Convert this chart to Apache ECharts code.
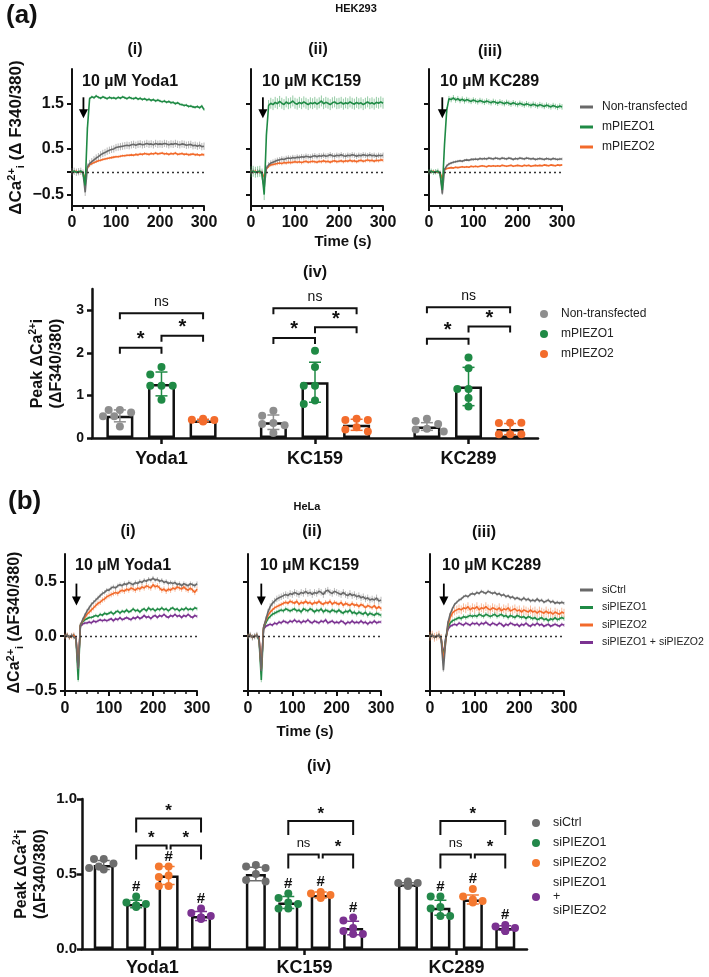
<!DOCTYPE html>
<html>
<head>
<meta charset="utf-8">
<script src="https://cdn.jsdelivr.net/npm/echarts@6/dist/echarts.min.js"></script>
<style>
html,body{margin:0;padding:0;background:#fff}
#chart{width:709px;height:977px}
</style>
</head>
<body>
<div id="chart"></div>
<script>
const FONT = '"Liberation Sans", Arial, sans-serif';

// ---- trace data (sampled every 5 s) ----
const traceTime = [0,5,10,15,20,25,30,35,40,45,50,55,60,65,70,75,80,85,90,95,100,105,110,115,120,125,130,135,140,145,150,155,160,165,170,175,180,185,190,195,200,205,210,215,220,225,230,235,240,245,250,255,260,265,270,275,280,285,290,295,300];

const drugs = ['Yoda1', 'KC159', 'KC289'];
const hekGroups = ['Non-transfected', 'mPIEZO1', 'mPIEZO2'];
const helaGroups = ['siCtrl', 'siPIEZO1', 'siPIEZO2', 'siPIEZO1 + siPIEZO2'];

// HEK293, Yoda1
const hekYoda1NT = [0.00,0.01,-0.01,0.00,0.01,-0.03,-0.45,0.10,0.18,0.22,
  0.26,0.30,0.33,0.37,0.40,0.42,0.45,0.47,0.49,0.50,
  0.53,0.54,0.55,0.56,0.57,0.58,0.57,0.59,0.60,0.58,
  0.60,0.61,0.59,0.60,0.62,0.60,0.61,0.59,0.62,0.60,
  0.61,0.60,0.62,0.61,0.59,0.61,0.60,0.62,0.60,0.59,
  0.61,0.60,0.58,0.59,0.60,0.57,0.58,0.56,0.58,0.55,0.56];
const hekYoda1P1 = [0.00,0.01,-0.01,0.00,0.01,-0.02,-0.30,0.95,1.60,1.64,
  1.62,1.66,1.63,1.61,1.64,1.62,1.60,1.63,1.61,1.62,
  1.60,1.63,1.61,1.64,1.62,1.60,1.63,1.61,1.60,1.62,
  1.59,1.61,1.58,1.60,1.57,1.59,1.56,1.58,1.55,1.57,
  1.55,1.53,1.55,1.52,1.54,1.51,1.52,1.49,1.51,1.48,
  1.47,1.45,1.46,1.43,1.44,1.42,1.41,1.43,1.40,1.44,1.36];
const hekYoda1P2 = [0.00,0.00,0.01,-0.01,0.00,-0.02,-0.15,0.08,0.15,0.18,
  0.20,0.22,0.24,0.25,0.27,0.28,0.29,0.30,0.31,0.32,
  0.33,0.33,0.34,0.35,0.35,0.36,0.36,0.37,0.36,0.38,
  0.37,0.39,0.38,0.40,0.39,0.38,0.40,0.39,0.41,0.39,
  0.40,0.41,0.39,0.40,0.38,0.40,0.39,0.41,0.38,0.39,
  0.40,0.38,0.39,0.37,0.38,0.39,0.37,0.38,0.36,0.38,0.37];
// HEK293, KC159
const hekKC159NT = [0.00,0.01,-0.01,0.00,0.01,-0.03,-0.35,0.08,0.15,0.19,
  0.21,0.23,0.25,0.26,0.28,0.27,0.29,0.30,0.29,0.31,
  0.30,0.32,0.31,0.33,0.32,0.34,0.33,0.32,0.34,0.35,
  0.33,0.35,0.34,0.36,0.34,0.35,0.37,0.35,0.34,0.36,
  0.35,0.37,0.35,0.34,0.36,0.35,0.37,0.36,0.34,0.36,
  0.35,0.37,0.36,0.35,0.37,0.35,0.36,0.34,0.36,0.35,0.36];
const hekKC159P1 = [0.00,0.01,-0.01,0.00,0.01,-0.05,-0.50,0.80,1.45,1.50,
  1.47,1.52,1.49,1.54,1.50,1.47,1.53,1.49,1.51,1.55,
  1.50,1.48,1.52,1.49,1.53,1.50,1.47,1.51,1.49,1.52,
  1.48,1.51,1.55,1.49,1.52,1.50,1.47,1.51,1.53,1.49,
  1.50,1.52,1.48,1.51,1.49,1.53,1.50,1.48,1.52,1.49,
  1.51,1.47,1.50,1.53,1.49,1.51,1.48,1.52,1.50,1.53,1.50];
const hekKC159P2 = [0.00,0.00,0.01,-0.01,0.00,-0.02,-0.12,0.06,0.12,0.15,
  0.16,0.17,0.18,0.19,0.18,0.20,0.19,0.21,0.20,0.21,
  0.22,0.21,0.22,0.20,0.22,0.23,0.21,0.22,0.23,0.22,
  0.21,0.23,0.22,0.24,0.22,0.23,0.21,0.23,0.24,0.22,
  0.23,0.24,0.22,0.24,0.23,0.25,0.23,0.24,0.22,0.24,
  0.25,0.23,0.24,0.26,0.24,0.25,0.23,0.25,0.24,0.26,0.25];
// HEK293, KC289
const hekKC289NT = [0.00,0.01,-0.01,0.00,0.01,-0.05,-0.48,0.05,0.13,0.17,
  0.19,0.21,0.22,0.23,0.24,0.23,0.25,0.26,0.25,0.27,
  0.27,0.28,0.27,0.29,0.28,0.29,0.28,0.30,0.29,0.28,
  0.30,0.29,0.28,0.30,0.29,0.28,0.30,0.29,0.27,0.29,
  0.28,0.30,0.29,0.28,0.30,0.29,0.28,0.29,0.27,0.28,
  0.29,0.28,0.27,0.29,0.28,0.27,0.29,0.28,0.27,0.28,0.28];
const hekKC289P1 = [0.00,0.01,-0.01,0.00,0.01,-0.03,-0.40,0.60,1.35,1.60,
  1.58,1.62,1.57,1.60,1.56,1.59,1.55,1.58,1.56,1.54,
  1.57,1.55,1.53,1.56,1.54,1.52,1.55,1.53,1.51,1.54,
  1.52,1.50,1.53,1.51,1.49,1.52,1.50,1.48,1.51,1.49,
  1.47,1.50,1.48,1.46,1.49,1.47,1.45,1.48,1.46,1.44,
  1.47,1.45,1.43,1.46,1.44,1.42,1.45,1.43,1.41,1.44,1.42];
const hekKC289P2 = [0.00,0.00,0.01,-0.01,0.00,-0.02,-0.15,0.04,0.07,0.08,
  0.09,0.08,0.10,0.09,0.10,0.11,0.10,0.11,0.10,0.12,
  0.11,0.12,0.11,0.12,0.13,0.12,0.11,0.13,0.12,0.13,
  0.12,0.13,0.12,0.14,0.13,0.12,0.13,0.14,0.12,0.13,
  0.14,0.13,0.12,0.14,0.13,0.14,0.12,0.13,0.14,0.13,
  0.14,0.13,0.15,0.14,0.13,0.15,0.14,0.13,0.15,0.14,0.15];
// typical SEM of each HEK trace [NT, P1, P2]
const hekSemYoda1 = [0.08, 0.03, 0.03];
const hekSemKC159 = [0.06, 0.12, 0.04];
const hekSemKC289 = [0.03, 0.06, 0.02];

// HeLa, Yoda1
const helaYoda1Ctrl = [0.00,0.01,-0.01,0.01,-0.01,-0.02,-0.30,0.10,0.15,0.19,
  0.23,0.26,0.29,0.31,0.33,0.35,0.37,0.39,0.40,0.42,
  0.42,0.44,0.45,0.44,0.46,0.47,0.46,0.48,0.47,0.49,
  0.48,0.47,0.49,0.48,0.50,0.49,0.51,0.50,0.52,0.51,
  0.53,0.51,0.52,0.50,0.51,0.49,0.50,0.48,0.49,0.48,
  0.49,0.47,0.48,0.46,0.48,0.47,0.46,0.48,0.47,0.46,0.48];
const helaYoda1P1 = [0.00,0.01,-0.01,0.00,0.01,-0.03,-0.40,0.10,0.13,0.15,
  0.16,0.17,0.17,0.18,0.19,0.18,0.20,0.19,0.21,0.20,
  0.21,0.22,0.20,0.22,0.23,0.21,0.23,0.22,0.24,0.22,
  0.23,0.25,0.23,0.24,0.22,0.24,0.25,0.23,0.26,0.24,
  0.25,0.23,0.25,0.24,0.26,0.24,0.25,0.23,0.25,0.26,
  0.24,0.25,0.23,0.25,0.24,0.26,0.24,0.25,0.24,0.26,0.25];
const helaYoda1P2 = [0.00,0.01,-0.01,0.00,0.01,-0.02,-0.28,0.10,0.14,0.17,
  0.20,0.22,0.24,0.26,0.28,0.30,0.31,0.33,0.34,0.36,
  0.37,0.38,0.39,0.40,0.39,0.41,0.42,0.41,0.43,0.42,
  0.44,0.43,0.42,0.44,0.43,0.45,0.44,0.46,0.45,0.44,
  0.47,0.45,0.46,0.44,0.42,0.43,0.41,0.43,0.42,0.44,
  0.43,0.45,0.44,0.43,0.45,0.43,0.42,0.44,0.42,0.40,0.43];
const helaYoda1Both = [0.00,0.01,-0.01,0.00,0.01,-0.02,-0.30,0.09,0.11,0.12,
  0.12,0.13,0.12,0.14,0.13,0.14,0.15,0.14,0.15,0.14,
  0.15,0.16,0.14,0.16,0.15,0.17,0.15,0.16,0.17,0.16,
  0.15,0.17,0.16,0.18,0.16,0.17,0.19,0.17,0.18,0.16,
  0.18,0.19,0.17,0.19,0.18,0.20,0.18,0.17,0.19,0.18,
  0.20,0.18,0.19,0.17,0.19,0.18,0.20,0.18,0.17,0.19,0.18];
// HeLa, KC159
const helaKC159Ctrl = [0.00,0.01,-0.01,0.00,0.01,-0.03,-0.32,0.08,0.15,0.22,
  0.27,0.30,0.32,0.34,0.35,0.36,0.37,0.38,0.37,0.39,
  0.38,0.40,0.39,0.38,0.40,0.39,0.41,0.39,0.40,0.38,
  0.40,0.39,0.41,0.40,0.38,0.41,0.42,0.40,0.39,0.41,
  0.40,0.39,0.38,0.40,0.38,0.37,0.39,0.37,0.38,0.36,
  0.37,0.35,0.36,0.34,0.35,0.33,0.34,0.33,0.35,0.32,0.33];
const helaKC159P1 = [0.00,0.01,-0.01,0.00,0.01,-0.04,-0.40,0.07,0.12,0.16,
  0.18,0.20,0.21,0.22,0.23,0.24,0.23,0.25,0.24,0.23,
  0.24,0.25,0.23,0.24,0.22,0.25,0.24,0.23,0.25,0.24,
  0.22,0.24,0.23,0.25,0.22,0.24,0.23,0.22,0.24,0.23,
  0.22,0.24,0.22,0.21,0.23,0.22,0.24,0.21,0.22,0.20,
  0.22,0.21,0.20,0.22,0.19,0.21,0.20,0.19,0.21,0.20,0.19];
const helaKC159P2 = [0.00,0.01,-0.01,0.00,0.01,-0.02,-0.30,0.08,0.14,0.19,
  0.22,0.24,0.26,0.27,0.28,0.29,0.30,0.31,0.30,0.32,
  0.31,0.30,0.32,0.29,0.31,0.30,0.32,0.30,0.31,0.29,
  0.31,0.30,0.32,0.30,0.29,0.31,0.30,0.32,0.29,0.31,
  0.30,0.29,0.31,0.28,0.30,0.29,0.28,0.30,0.28,0.29,
  0.27,0.29,0.28,0.26,0.28,0.27,0.26,0.28,0.25,0.27,0.25];
const helaKC159Both = [0.00,0.01,-0.01,0.00,0.01,-0.02,-0.30,0.06,0.09,0.10,
  0.11,0.10,0.12,0.11,0.13,0.12,0.14,0.13,0.12,0.14,
  0.13,0.15,0.13,0.14,0.12,0.14,0.13,0.15,0.13,0.12,
  0.14,0.13,0.12,0.14,0.13,0.15,0.12,0.13,0.14,0.12,
  0.13,0.12,0.14,0.13,0.11,0.13,0.12,0.14,0.12,0.13,
  0.12,0.14,0.12,0.13,0.11,0.13,0.12,0.14,0.12,0.13,0.13];
// HeLa, KC289
const helaKC289Ctrl = [0.00,0.01,-0.01,0.00,0.01,-0.03,-0.31,-0.05,0.12,0.20,
  0.25,0.29,0.31,0.33,0.34,0.36,0.37,0.36,0.38,0.39,
  0.38,0.40,0.39,0.41,0.40,0.39,0.41,0.40,0.39,0.40,
  0.38,0.39,0.37,0.38,0.36,0.37,0.35,0.36,0.34,0.35,
  0.34,0.33,0.35,0.33,0.34,0.32,0.33,0.32,0.34,0.32,
  0.33,0.31,0.32,0.33,0.31,0.32,0.30,0.31,0.30,0.31,0.30];
const helaKC289P1 = [0.00,0.01,-0.01,0.00,0.01,-0.02,-0.20,-0.03,0.08,0.12,
  0.14,0.15,0.16,0.17,0.16,0.18,0.17,0.18,0.19,0.18,
  0.19,0.18,0.20,0.19,0.18,0.20,0.19,0.18,0.19,0.20,
  0.18,0.19,0.20,0.18,0.19,0.17,0.19,0.18,0.17,0.19,
  0.18,0.17,0.18,0.16,0.18,0.17,0.16,0.17,0.15,0.16,
  0.17,0.15,0.16,0.14,0.16,0.15,0.17,0.15,0.16,0.17,0.16];
const helaKC289P2 = [0.00,0.01,-0.01,0.00,0.01,-0.02,-0.23,-0.05,0.10,0.17,
  0.21,0.23,0.24,0.25,0.24,0.26,0.25,0.27,0.24,0.26,
  0.25,0.27,0.24,0.26,0.25,0.27,0.25,0.24,0.26,0.25,
  0.24,0.26,0.23,0.25,0.24,0.26,0.23,0.24,0.25,0.23,
  0.24,0.22,0.24,0.23,0.22,0.24,0.22,0.23,0.21,0.23,
  0.22,0.21,0.23,0.21,0.22,0.20,0.22,0.21,0.20,0.22,0.21];
const helaKC289Both = [0.00,0.01,-0.01,0.00,0.01,-0.02,-0.18,-0.02,0.06,0.09,
  0.10,0.11,0.10,0.12,0.11,0.10,0.12,0.11,0.10,0.12,
  0.11,0.12,0.10,0.12,0.11,0.13,0.11,0.10,0.12,0.11,
  0.10,0.12,0.11,0.09,0.11,0.10,0.12,0.11,0.10,0.11,
  0.09,0.11,0.10,0.12,0.10,0.09,0.11,0.10,0.12,0.10,
  0.11,0.09,0.10,0.11,0.09,0.10,0.11,0.10,0.09,0.11,0.10];
// typical SEM of each HeLa trace [Ctrl, P1, P2, Both]
const helaSemYoda1 = [0.02, 0.015, 0.025, 0.015];
const helaSemKC159 = [0.03, 0.02, 0.02, 0.015];
const helaSemKC289 = [0.015, 0.02, 0.04, 0.015];

// ---- peak responses: HEK293 (per drug) ----
const hekNTMean = [0.52, 0.37, 0.27];
const hekP1Mean = [1.27, 1.31, 1.21];
const hekP2Mean = [0.41, 0.31, 0.21];
const hekNTSd = [0.14, 0.17, 0.09];
const hekP1Sd = [0.28, 0.47, 0.45];
const hekP2Sd = [0.03, 0.13, 0.13];
const hekNTPts = [[0.66,0.66,0.60,0.51,0.51,0.27],[0.64,0.52,0.35,0.33,0.30,0.12],[0.45,0.40,0.33,0.22,0.20,0.15]];
const hekP1Pts = [[1.67,1.49,1.23,1.23,1.23,0.90],[2.05,1.67,1.23,1.23,0.88,0.80],[1.89,1.64,1.15,1.15,0.94,0.74]];
const hekP2Pts = [[0.45,0.43,0.42,0.41,0.40,0.39],[0.45,0.42,0.42,0.25,0.20,0.15],[0.36,0.35,0.36,0.09,0.09,0.09]];
// [drug, group a, group b, height, label]
const hekBrackets = [
  [0,0,1,2.12,'*'],[0,1,2,2.40,'*'],[0,0,2,2.93,'ns'],
  [1,0,1,2.35,'*'],[1,1,2,2.60,'*'],[1,0,2,3.05,'ns'],
  [2,0,1,2.33,'*'],[2,1,2,2.62,'*'],[2,0,2,3.07,'ns']];

// ---- peak responses: HeLa (per drug) ----
const helaCtrlMean = [0.56, 0.50, 0.43];
const helaP1Mean = [0.30, 0.31, 0.275];
const helaP2Mean = [0.49, 0.36, 0.33];
const helaBothMean = [0.22, 0.14, 0.14];
const helaCtrlSd = [0.03, 0.045, 0.012];
const helaP1Sd = [0.025, 0.04, 0.05];
const helaP2Sd = [0.06, 0.02, 0.03];
const helaBothSd = [0.03, 0.045, 0.015];
const helaCtrlPts = [[0.60,0.60,0.57,0.55,0.54,0.53],[0.56,0.55,0.54,0.50,0.46,0.45],[0.45,0.44,0.44,0.43,0.43,0.42]];
const helaP1Pts = [[0.35,0.31,0.30,0.29,0.29,0.28],[0.37,0.34,0.31,0.30,0.27,0.27],[0.35,0.35,0.28,0.27,0.22,0.22]];
const helaP2Pts = [[0.55,0.55,0.49,0.48,0.42,0.42],[0.38,0.37,0.36,0.36,0.35,0.34],[0.40,0.35,0.33,0.32,0.32,0.31]];
const helaBothPts = [[0.27,0.24,0.22,0.21,0.21,0.20],[0.21,0.19,0.14,0.12,0.10,0.10],[0.16,0.15,0.14,0.13,0.12,0.12]];
const helaBrackets = [
  [0,1,3,0.87,'*'],[0,1,2,0.69,'*'],[0,2,3,0.69,'*'],
  [1,1,3,0.853,'*'],[1,1,2,0.63,'ns'],[1,2,3,0.63,'*'],
  [2,1,3,0.853,'*'],[2,1,2,0.63,'ns'],[2,2,3,0.63,'*']];
// groups marked # (different from siCtrl)
const helaHashGroups = [1, 2, 3];

// ---- styling ----
const cGrey = '#696969', cGreen = '#1f8a45', cOrange = '#f26a2b', cPurple = '#7b3291';
const hekColors = [cGrey, cGreen, cOrange];
const hekDots = ['#8e8e8e', '#1f8a45', '#f36c2c'];
const helaColors = [cGrey, cGreen, cOrange, cPurple];
const helaDots = ['#6d6d6d', '#23884a', '#f4782f', '#7b3291'];
const hekSemColors = ['rgba(120,120,120,0.55)', 'rgba(60,160,90,0.55)', 'rgba(242,120,60,0.5)'];
const helaSemColors = ['rgba(120,120,120,0.5)', 'rgba(60,160,90,0.5)', 'rgba(242,120,60,0.5)', 'rgba(140,80,160,0.5)'];

const grids = [], xAxes = [], yAxes = [], series = [];

function fmt1(v) {
  return (v < 0 ? '\u2212' : '') + Math.abs(v).toFixed(1);
}
function axisLine(w) { return {show: true, onZero: false, lineStyle: {color: '#111', width: w || 2}}; }

function addTracePanel(cfg) {
  const gi = grids.length;
  grids.push({left: cfg.left, top: cfg.top, width: cfg.width, height: cfg.height});
  xAxes.push({gridIndex: gi, type: 'value', min: 0, max: 300, interval: 100,
    axisLine: axisLine(),
    axisTick: {show: true, length: 5, lineStyle: {width: 2, color: '#111'}},
    minorTick: {show: true, splitNumber: 4, length: 3, lineStyle: {width: 1.5, color: '#111'}},
    splitLine: {show: false}, minorSplitLine: {show: false},
    axisLabel: {margin: cfg.xMargin, fontSize: 16, fontWeight: 'bold', color: '#111', fontFamily: FONT}});
  yAxes.push({gridIndex: gi, type: 'value', min: cfg.yMin, max: cfg.yMax,
    axisLine: axisLine(),
    axisTick: {show: true, length: 5, customValues: cfg.ticks, lineStyle: {width: 2, color: '#111'}},
    axisLabel: {show: cfg.showLabels, customValues: cfg.labels, margin: 8, fontSize: 16,
      fontWeight: 'bold', color: '#111', fontFamily: FONT, formatter: fmt1},
    splitLine: {show: false},
    name: cfg.yName || '', nameLocation: 'middle', nameGap: cfg.nameGap || 0, nameMoveOverlap: false,
    nameTextStyle: cfg.nameStyle || {}});

  cfg.order.forEach((k, n) => {
    const vals = cfg.traces[k], sem = cfg.sems[k];
    const s = {type: 'custom', xAxisIndex: gi, yAxisIndex: gi, silent: true, z: 1,
      data: traceTime.map((t, i) => [t, vals[i] - sem, vals[i] + sem]),
      renderItem(params, api) {
        const a = api.coord([api.value(0), api.value(1)]);
        const b = api.coord([api.value(0), api.value(2)]);
        return {type: 'line', shape: {x1: a[0], y1: a[1], x2: b[0], y2: b[1]},
          style: {stroke: cfg.semColors[k], lineWidth: 1}};
      }};
    if (n === 0) {
      s.markLine = {silent: true, symbol: ['none', 'none'], label: {show: false},
        lineStyle: {type: [2, 3], color: '#333', width: 1.3}, data: [{yAxis: 0}]};
    }
    series.push(s);
  });
  cfg.order.forEach(k => {
    series.push({type: 'line', name: cfg.names[k], xAxisIndex: gi, yAxisIndex: gi, z: 3,
      data: traceTime.map((t, i) => [t, cfg.traces[k][i]]),
      showSymbol: false, symbol: 'none', silent: true,
      lineStyle: {color: cfg.colors[k], width: 1.6}, itemStyle: {color: cfg.colors[k]}});
  });
  // drug application arrow
  series.push({type: 'custom', xAxisIndex: gi, yAxisIndex: gi, z: 4, silent: true,
    data: [[cfg.arrowT, cfg.arrowY[0], cfg.arrowY[1]]],
    renderItem(params, api) {
      const top = api.coord([api.value(0), api.value(1)]);
      const tip = api.coord([api.value(0), api.value(2)]);
      return {type: 'group', children: [
        {type: 'line', shape: {x1: top[0], y1: top[1], x2: tip[0], y2: tip[1] - 6}, style: {stroke: '#000', lineWidth: 1.8}},
        {type: 'polygon', shape: {points: [[tip[0] - 4.5, tip[1] - 9], [tip[0] + 4.5, tip[1] - 9], [tip[0], tip[1]]]}, style: {fill: '#000'}}
      ]};
    }});
}

function swarm(values, unitPx, valPx, step, diam) {
  const placed = [];
  const cand = [0, -1, 1, -0.5, 0.5, -1.5, 1.5];
  return values.map(v => {
    for (const c of cand) {
      const ox = c * step;
      if (placed.every(p => Math.hypot((p[0] - ox) * unitPx, (p[1] - v) * valPx) >= diam)) {
        placed.push([ox, v]);
        return ox;
      }
    }
    placed.push([0, v]);
    return 0;
  });
}

function addBarPanel(cfg) {
  const gi = grids.length;
  const n = cfg.groups.length;
  const pos = (d, g) => d * (n + 0.69) + g;
  const xMin = -0.67, xMax = pos(drugs.length - 1, n - 1) + 0.67;
  const centers = drugs.map((_, d) => pos(d, (n - 1) / 2));
  const unitPx = cfg.width / (xMax - xMin), valPx = cfg.height / cfg.yMax;
  grids.push({left: cfg.left, top: cfg.top, width: cfg.width, height: cfg.height});
  xAxes.push({gridIndex: gi, type: 'value', min: xMin, max: xMax,
    axisLine: axisLine(2.5),
    axisTick: {show: true, length: 6, customValues: centers, lineStyle: {width: 2.5, color: '#111'}},
    axisLabel: {customValues: centers, margin: cfg.catMargin, fontSize: 18, fontWeight: 'bold', color: '#111', fontFamily: FONT,
      formatter: v => drugs[centers.findIndex(c => Math.abs(c - v) < 1e-6)] || ''},
    splitLine: {show: false}});
  yAxes.push({gridIndex: gi, type: 'value', min: 0, max: cfg.yMax,
    axisLine: axisLine(2.5),
    axisTick: {show: true, length: 5, customValues: cfg.ticks, lineStyle: {width: 2.5, color: '#111'}},
    axisLabel: {customValues: cfg.ticks, margin: cfg.tickMargin, fontSize: cfg.tickFont, fontWeight: 'bold', color: '#111',
      fontFamily: FONT, formatter: cfg.tickFmt},
    splitLine: {show: false},
    name: cfg.yName, nameLocation: 'middle', nameGap: cfg.nameGap, nameMoveOverlap: false, nameTextStyle: cfg.nameStyle});

  const barData = [];
  drugs.forEach((_, d) => cfg.means.forEach((m, g) => barData.push([pos(d, g), m[d]])));
  series.push({type: 'bar', xAxisIndex: gi, yAxisIndex: gi, barWidth: cfg.barWidth, z: 2, silent: true,
    data: barData, itemStyle: {color: '#fff', borderColor: '#111', borderWidth: 2.5}});

  cfg.means.forEach((m, g) => {
    series.push({type: 'custom', xAxisIndex: gi, yAxisIndex: gi, z: 3, silent: true,
      data: drugs.map((_, d) => [pos(d, g), m[d] - cfg.sds[g][d], m[d] + cfg.sds[g][d]]),
      renderItem(params, api) {
        const a = api.coord([api.value(0), api.value(1)]);
        const b = api.coord([api.value(0), api.value(2)]);
        const w = cfg.capW / 2, st = {stroke: cfg.dots[g], lineWidth: 1.5};
        return {type: 'group', children: [
          {type: 'line', shape: {x1: a[0], y1: a[1], x2: b[0], y2: b[1]}, style: st},
          {type: 'line', shape: {x1: a[0] - w, y1: a[1], x2: a[0] + w, y2: a[1]}, style: st},
          {type: 'line', shape: {x1: b[0] - w, y1: b[1], x2: b[0] + w, y2: b[1]}, style: st}
        ]};
      }});
  });

  cfg.pts.forEach((p, g) => {
    const data = [];
    drugs.forEach((_, d) => {
      const off = swarm(p[d], unitPx, valPx, cfg.step, cfg.dotSize);
      p[d].forEach((v, i) => data.push([pos(d, g) + off[i], v]));
    });
    series.push({type: 'scatter', name: cfg.groups[g], xAxisIndex: gi, yAxisIndex: gi, z: 4, silent: true,
      symbolSize: cfg.dotSize, data, itemStyle: {color: cfg.dots[g], opacity: 1}});
  });

  // significance brackets
  const list = cfg.brackets;
  const meta = list.map((b, k) => {
    const shared = e => list.some((o, j) => j !== k && o[0] === b[0] && o[3] === b[3] && (o[1] === e || o[2] === e));
    const sa = shared(b[1]), sb = shared(b[2]);
    return {la: sa ? cfg.legShort : cfg.legLong, lb: sb ? cfg.legShort : cfg.legLong,
      da: sa ? 2 : 0, db: sb ? -2 : 0, text: b[4]};
  });
  series.push({type: 'custom', xAxisIndex: gi, yAxisIndex: gi, z: 5, silent: true,
    data: list.map(b => [pos(b[0], b[1]), pos(b[0], b[2]), b[3]]),
    renderItem(params, api) {
      const m = meta[params.dataIndex];
      const a = api.coord([api.value(0), api.value(2)]);
      const c = api.coord([api.value(1), api.value(2)]);
      const x1 = a[0] + m.da, x2 = c[0] + m.db, y = a[1];
      const star = m.text === '*';
      return {type: 'group', children: [
        {type: 'polyline', shape: {points: [[x1, y + m.la], [x1, y], [x2, y], [x2, y + m.lb]]},
          style: {stroke: '#111', lineWidth: 2, fill: 'none'}},
        {type: 'text', x: (x1 + x2) / 2, y: y - (star ? cfg.starGap : cfg.nsGap),
          style: {text: m.text, align: 'center', verticalAlign: 'middle', fill: '#111',
            font: star ? cfg.starFont : cfg.nsFont}}
      ]};
    }});

  if (cfg.hashGroups) {
    const hd = [];
    drugs.forEach((_, d) => cfg.hashGroups.forEach(g => {
      const top = Math.max(Math.max(...cfg.pts[g][d]), cfg.means[g][d] + cfg.sds[g][d]);
      hd.push([pos(d, g), top]);
    }));
    series.push({type: 'custom', xAxisIndex: gi, yAxisIndex: gi, z: 5, silent: true, data: hd,
      renderItem(params, api) {
        const p = api.coord([api.value(0), api.value(1)]);
        return {type: 'text', x: p[0], y: p[1] - 10,
          style: {text: '#', align: 'center', verticalAlign: 'middle', fill: '#111', font: 'bold 15px ' + FONT}};
      }});
  }
}

const traceNameA = {
  b: {fontSize: 17, fontWeight: 'bold', fontFamily: FONT, color: '#111', lineHeight: 20},
  sup: {fontSize: 11, fontWeight: 'bold', fontFamily: FONT, color: '#111', lineHeight: 11, verticalAlign: 'top'},
  sub: {fontSize: 11, fontWeight: 'bold', fontFamily: FONT, color: '#111', lineHeight: 11, verticalAlign: 'bottom'}
};

// HEK293 traces
const hekTraces = [[hekYoda1NT, hekYoda1P1, hekYoda1P2], [hekKC159NT, hekKC159P1, hekKC159P2], [hekKC289NT, hekKC289P1, hekKC289P2]];
const hekSems = [hekSemYoda1, hekSemKC159, hekSemKC289];
const hekBoxes = [[72, 132], [251, 132], [429, 133]];
const hekArrowT = [26, 27, 30];
hekBoxes.forEach((b, p) => addTracePanel({
  left: b[0], width: b[1], top: 69, height: 137, yMin: -0.75, yMax: 2.25, xMargin: 9,
  ticks: [-0.5, 0, 0.5, 1.5], labels: [-0.5, 0.5, 1.5], showLabels: p === 0,
  yName: p === 0 ? '{b|ΔCa}{sup|2+}{sub|i}{b| (Δ F340/380)}' : '', nameGap: 46,
  nameStyle: {rich: traceNameA},
  traces: hekTraces[p], sems: hekSems[p], names: hekGroups, colors: hekColors, semColors: hekSemColors,
  order: [2, 0, 1], arrowT: hekArrowT[p], arrowY: [1.63, 1.17]
}));

addBarPanel({
  left: 92, top: 289, width: 446, height: 149, yMax: 3.5, ticks: [0, 1, 2, 3], tickFont: 14, tickMargin: 8,
  catMargin: 12, tickFmt: v => String(v),
  yName: '{b|Peak ΔCa}{sup|2+}{b|i}\n{b|(ΔF340/380)}', nameGap: 26,
  nameStyle: {rich: {
    b: {fontSize: 16, fontWeight: 'bold', fontFamily: FONT, color: '#111', lineHeight: 19},
    sup: {fontSize: 10, fontWeight: 'bold', fontFamily: FONT, color: '#111', lineHeight: 10, verticalAlign: 'top'}}},
  groups: hekGroups, means: [hekNTMean, hekP1Mean, hekP2Mean], sds: [hekNTSd, hekP1Sd, hekP2Sd],
  pts: [hekNTPts, hekP1Pts, hekP2Pts], dots: hekDots, barWidth: 27, capW: 12, step: 0.27, dotSize: 8,
  brackets: hekBrackets, legLong: 6, legShort: 6, starGap: 8, nsGap: 11,
  starFont: 'bold 20px ' + FONT, nsFont: '14px ' + FONT
});

// HeLa traces
const helaTraces = [[helaYoda1Ctrl, helaYoda1P1, helaYoda1P2, helaYoda1Both],
  [helaKC159Ctrl, helaKC159P1, helaKC159P2, helaKC159Both],
  [helaKC289Ctrl, helaKC289P1, helaKC289P2, helaKC289Both]];
const helaSems = [helaSemYoda1, helaSemKC159, helaSemKC289];
const helaBoxes = [[65, 132], [248, 133], [430, 134]];
const helaArrowT = [26, 30, 31];
helaBoxes.forEach((b, p) => addTracePanel({
  left: b[0], width: b[1], top: 554, height: 137, yMin: -0.5, yMax: 0.75, xMargin: 10,
  ticks: [-0.5, 0, 0.5], labels: [-0.5, 0, 0.5], showLabels: p === 0,
  yName: p === 0 ? '{b|ΔCa}{sup|2+}{sub|i}{b| (ΔF340/380)}' : '', nameGap: 40,
  nameStyle: {rich: {
    b: {fontSize: 16, fontWeight: 'bold', fontFamily: FONT, color: '#111', lineHeight: 20},
    sup: traceNameA.sup, sub: traceNameA.sub}},
  traces: helaTraces[p], sems: helaSems[p], names: helaGroups, colors: helaColors, semColors: helaSemColors,
  order: [3, 1, 2, 0], arrowT: helaArrowT[p], arrowY: [0.48, 0.28]
}));

addBarPanel({
  left: 82, top: 799, width: 445, height: 150, yMax: 1.0, ticks: [0, 0.5, 1.0], tickFont: 15, tickMargin: 5,
  catMargin: 10, tickFmt: v => v.toFixed(1),
  yName: '{b|Peak ΔCa}{sup|2+}{b|i}\n{b|(ΔF340/380)}', nameGap: 32,
  nameStyle: {rich: {
    b: {fontSize: 16, fontWeight: 'bold', fontFamily: FONT, color: '#111', lineHeight: 19},
    sup: {fontSize: 10, fontWeight: 'bold', fontFamily: FONT, color: '#111', lineHeight: 10, verticalAlign: 'top'}}},
  groups: helaGroups, means: [helaCtrlMean, helaP1Mean, helaP2Mean, helaBothMean],
  sds: [helaCtrlSd, helaP1Sd, helaP2Sd, helaBothSd],
  pts: [helaCtrlPts, helaP1Pts, helaP2Pts, helaBothPts], dots: helaDots, barWidth: 20, capW: 12, step: 0.3, dotSize: 8,
  brackets: helaBrackets, legLong: 14, legShort: 4, starGap: 7, nsGap: 11,
  starFont: 'bold 17px ' + FONT, nsFont: '13px ' + FONT, hashGroups: helaHashGroups
});

function txt(text, x, y, font, align) {
  return {type: 'text', x, y, silent: true,
    style: {text, font: font + ' ' + FONT, fill: '#111', align: align || 'center', verticalAlign: 'middle'}};
}

const legendText = {fontSize: 12, lineHeight: 14, color: '#222', fontFamily: FONT, padding: [0, 0, 0, 4]};

const option = {
  animation: false,
  backgroundColor: '#fff',
  grid: grids, xAxis: xAxes, yAxis: yAxes, series,
  legend: [
    {orient: 'vertical', left: 580, top: 100, padding: 0, itemWidth: 13, itemHeight: 3, itemGap: 6, icon: 'rect',
      selectedMode: false, textStyle: legendText,
      data: hekGroups.map((nm, i) => ({name: nm, icon: 'rect', itemStyle: {color: hekColors[i]}}))},
    {orient: 'vertical', left: 540, top: 307, padding: 0, itemWidth: 8, itemHeight: 8, itemGap: 6, icon: 'circle',
      selectedMode: false, textStyle: Object.assign({}, legendText, {padding: [0, 0, 0, 8]}),
      data: hekGroups.map((nm, i) => ({name: nm, icon: 'circle', itemStyle: {color: hekDots[i]}}))},
    {orient: 'vertical', left: 580, top: 584, padding: 0, itemWidth: 13, itemHeight: 3, itemGap: 5.5, icon: 'rect',
      selectedMode: false, textStyle: Object.assign({}, legendText, {fontSize: 10.5, lineHeight: 12}),
      data: helaGroups.map((nm, i) => ({name: nm, icon: 'rect', itemStyle: {color: helaColors[i]}}))},
    {orient: 'vertical', left: 532, top: 816, padding: 0, itemWidth: 8, itemHeight: 8, itemGap: 6, icon: 'circle',
      selectedMode: false, textStyle: Object.assign({}, legendText, {fontSize: 12.5, padding: [0, 0, 0, 8]}),
      formatter: nm => nm === helaGroups[3] ? 'siPIEZO1\n+\nsiPIEZO2' : nm,
      data: helaGroups.map((nm, i) => ({name: nm, icon: 'circle', itemStyle: {color: helaDots[i]}}))}
  ],
  graphic: [
    txt('(a)', 6, 16, 'bold 26px', 'left'),
    txt('HEK293', 356, 9, 'bold 11px'),
    txt('(i)', 135, 50, 'bold 16px'),
    txt('(ii)', 318, 50, 'bold 16px'),
    txt('(iii)', 490, 52, 'bold 16px'),
    txt('10 µM Yoda1', 82, 82, 'bold 16px', 'left'),
    txt('10 µM KC159', 262, 82, 'bold 16px', 'left'),
    txt('10 µM KC289', 440, 82, 'bold 16px', 'left'),
    txt('Time (s)', 343, 242, 'bold 15px'),
    txt('(iv)', 315, 273, 'bold 16px'),
    txt('(b)', 8, 502, 'bold 26px', 'left'),
    txt('HeLa', 307, 507, 'bold 11px'),
    txt('(i)', 128, 532, 'bold 16px'),
    txt('(ii)', 312, 532, 'bold 16px'),
    txt('(iii)', 484, 533, 'bold 16px'),
    txt('10 µM Yoda1', 75, 566, 'bold 16px', 'left'),
    txt('10 µM KC159', 260, 566, 'bold 16px', 'left'),
    txt('10 µM KC289', 442, 566, 'bold 16px', 'left'),
    txt('Time (s)', 305, 732, 'bold 15px'),
    txt('(iv)', 319, 767, 'bold 16px')
  ]
};

const chart = echarts.init(document.getElementById('chart'));
chart.setOption(option);
</script>
</body>
</html>
